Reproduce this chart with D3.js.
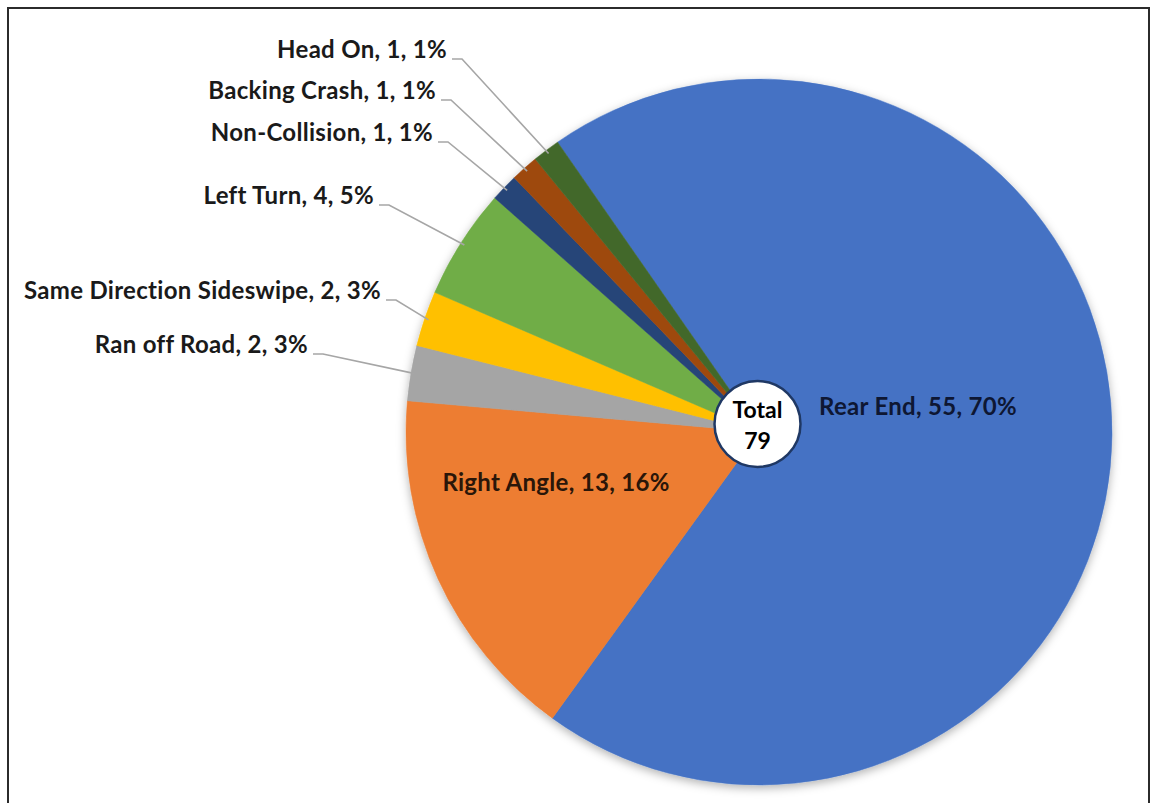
<!DOCTYPE html>
<html>
<head>
<meta charset="utf-8">
<script src="https://cdn.jsdelivr.net/npm/d3@7/dist/d3.min.js"></script>
<style>
  html, body { margin: 0; padding: 0; background: #fff; }
  svg { display: block; }
  text { font-family: Lato, "Open Sans", sans-serif; font-weight: 700; }
</style>
</head>
<body>
<svg id="chart" width="1153" height="803"></svg>
<script>
// ---- data ----
const categories = ["Rear End", "Right Angle", "Ran off Road", "Same Direction Sideswipe",
                    "Left Turn", "Non-Collision", "Backing Crash", "Head On"];
const counts = [55, 13, 2, 2, 4, 1, 1, 1];
const percents = ["70%", "16%", "3%", "3%", "5%", "1%", "1%", "1%"];
const colors = ["#4472C4", "#ED7D31", "#A5A5A5", "#FFC000", "#70AD47", "#264478", "#9E480E", "#43682B"];
const totalLabel = ["Total", "79"];

// ---- layout (label placement, not data) ----
const outsideLabelAnchors = {            // text end x, baseline y
  "Ran off Road": [308, 353],
  "Same Direction Sideswipe": [381, 299],
  "Left Turn": [374, 204],
  "Non-Collision": [433, 141],
  "Backing Crash": [436, 99],
  "Head On": [447, 58]
};
const insideLabelAnchors = {             // text center x, baseline y
  "Rear End": [918, 415],
  "Right Angle": [556, 491]
};

const W = 1153, H = 803;
const cx = 759, cy = 432, R = 353;
const startDeg = -34.8;

const svg = d3.select("#chart");

// frame
svg.append("rect").attr("x", 8).attr("y", 8).attr("width", 1141).attr("height", 820)
  .attr("fill", "none").attr("stroke", "#2b2b2b").attr("stroke-width", 2);

const defs = svg.append("defs");
const f = defs.append("filter").attr("id", "shadow").attr("x", "-10%").attr("y", "-10%")
  .attr("width", "120%").attr("height", "120%");
f.append("feDropShadow").attr("dx", 0).attr("dy", 3).attr("stdDeviation", 5)
  .attr("flood-color", "#000").attr("flood-opacity", 0.3);

const data = categories.map((c, i) => ({ name: c, value: counts[i], pct: percents[i], color: colors[i] }));

const start = startDeg * Math.PI / 180;
const pie = d3.pie().sort(null).value(d => d.value).startAngle(start).endAngle(start + 2 * Math.PI);
const arcs = pie(data);
const arc = d3.arc().innerRadius(0).outerRadius(R);

const g = svg.append("g").attr("transform", `translate(${cx},${cy})`);

g.append("g").attr("filter", "url(#shadow)")
  .selectAll("path").data(arcs).join("path")
  .attr("d", arc)
  .attr("fill", d => d.data.color)
  .attr("stroke", d => d.data.color)
  .attr("stroke-width", 0.5);

// outside labels with leader lines
const fs = 24;
const ls = 0.3;
arcs.forEach(a => {
  const name = a.data.name;
  const txt = `${name}, ${a.data.value}, ${a.data.pct}`;
  if (outsideLabelAnchors[name]) {
    const [tx, ty] = outsideLabelAnchors[name];
    const mid = (a.startAngle + a.endAngle) / 2;
    const rr = R - 4;
    const px = cx + rr * Math.sin(mid), py = cy - rr * Math.cos(mid);
    const ly = ty + 1;
    svg.append("polyline")
      .attr("points", `${tx + 5},${ly} ${tx + 15},${ly} ${px},${py}`)
      .attr("fill", "none").attr("stroke", "#A6A6A6").attr("stroke-width", 1.6);
    svg.append("text").attr("x", tx).attr("y", ty).attr("text-anchor", "end")
      .attr("font-size", fs).attr("letter-spacing", ls).attr("fill", "#1a1a1a").text(txt);
  } else if (insideLabelAnchors[name]) {
    const [tx, ty] = insideLabelAnchors[name];
    svg.append("text").attr("x", tx).attr("y", ty).attr("text-anchor", "middle")
      .attr("font-size", fs).attr("letter-spacing", ls)
      .attr("fill", name === "Rear End" ? "#0e1733" : "#2a1609").text(txt);
  }
});

// centre total badge
svg.append("circle").attr("cx", 757.5).attr("cy", 424).attr("r", 43)
  .attr("fill", "#fff").attr("stroke", "#1F3864").attr("stroke-width", 2.5);
svg.append("text").attr("x", 757.5).attr("y", 418).attr("text-anchor", "middle")
  .attr("font-size", 23).attr("fill", "#000").text(totalLabel[0]);
svg.append("text").attr("x", 757.5).attr("y", 449).attr("text-anchor", "middle")
  .attr("font-size", 23).attr("fill", "#000").text(totalLabel[1]);
</script>
</body>
</html>
